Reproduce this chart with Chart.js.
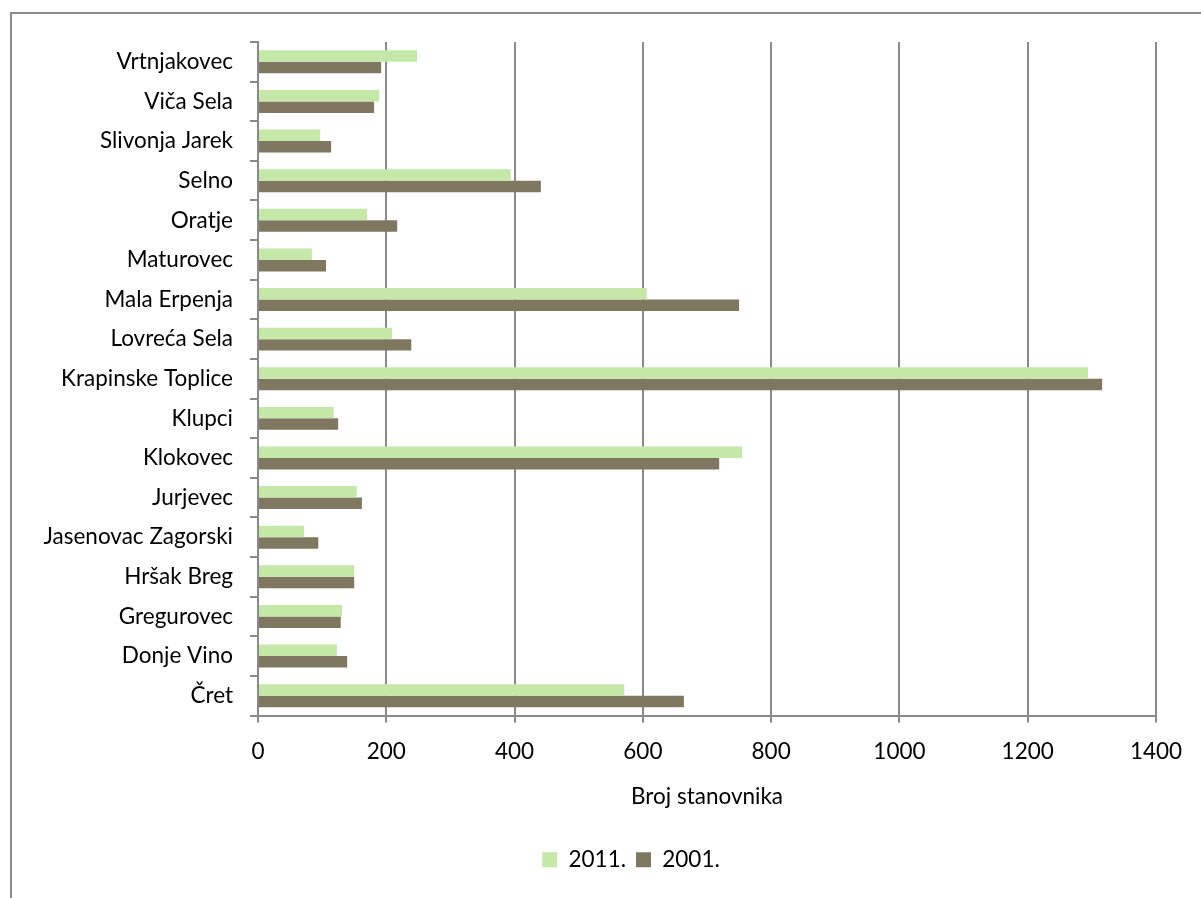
<!DOCTYPE html>
<html>
<head>
<meta charset="utf-8">
<script src="https://cdn.jsdelivr.net/npm/chart.js@4"></script>
<style>
  html, body { margin: 0; padding: 0; background: #fff; }
  #wrap { position: relative; width: 1201px; height: 898px; }
  #frame { position: absolute; left: 10px; top: 12px; right: 0; bottom: 0;
           border-top: 2px solid #898989; border-left: 2px solid #898989; }
  canvas { position: absolute; left: 0; top: 0; }
</style>
</head>
<body>
<div id="wrap">
  <div id="frame"></div>
  <canvas id="chart" width="1201" height="898"></canvas>
</div>
<script>
const places = ["Vrtnjakovec", "Viča Sela", "Slivonja Jarek", "Selno", "Oratje", "Maturovec",
  "Mala Erpenja", "Lovreća Sela", "Krapinske Toplice", "Klupci", "Klokovec", "Jurjevec",
  "Jasenovac Zagorski", "Hršak Breg", "Gregurovec", "Donje Vino", "Čret"];
const pop2011 = [248, 189, 97, 394, 170, 84, 606, 209, 1294, 118, 755, 154, 72, 150, 131, 123, 571];
const pop2001 = [192, 181, 114, 441, 217, 106, 750, 239, 1316, 125, 719, 162, 94, 150, 129, 139, 664];
const xTicks = [0, 200, 400, 600, 800, 1000, 1200, 1400];

const font = "Lato, 'Open Sans', sans-serif";
const fsize = 22.5;
const gridGray = "#898989";

// legend sits a bit right of the canvas centre in the original
const shiftLegend = {
    id: "shiftLegend",
    afterLayout(chart) {
        chart.legend.left += 53;
        chart.legend.right += 53;
    }
};

new Chart(document.getElementById("chart"), {
    type: "bar",
    data: {
        labels: places,
        datasets: [
            { label: "2011.", data: pop2011, backgroundColor: "#c5e8a9" },
            { label: "2001.", data: pop2001, backgroundColor: "#7f7760" }
        ]
    },
    options: {
        indexAxis: "y",
        responsive: false,
        animation: false,
        devicePixelRatio: 1,
        categoryPercentage: 0.58,
        barPercentage: 1,
        layout: { padding: { left: 0, right: 45, top: 42, bottom: 17 } },
        scales: {
            y: {
                afterFit: s => { s.width = 258; },
                grid: { drawOnChartArea: false, drawTicks: true, tickLength: 8, color: gridGray, lineWidth: 2 },
                border: { color: gridGray, width: 2 },
                ticks: { color: "#000", padding: 17, font: { family: font, size: fsize } }
            },
            x: {
                min: 0, max: 1400,
                afterFit: s => { s.height = 123; },
                afterBuildTicks: s => { s.ticks = xTicks.map(v => ({ value: v })); },
                grid: { color: gridGray, lineWidth: 2, tickLength: 7 },
                border: { color: gridGray, width: 2 },
                ticks: { color: "#000", padding: 16, font: { family: font, size: fsize },
                         callback: v => String(v) },
                title: { display: true, text: "Broj stanovnika", color: "#000",
                         padding: { top: 0, bottom: 28 }, font: { family: font, size: fsize } }
            }
        },
        plugins: {
            legend: {
                position: "bottom",
                labels: { color: "#000", boxWidth: 15, boxHeight: 15, padding: 10,
                          font: { family: font, size: fsize } }
            },
            tooltip: { enabled: false }
        }
    },
    plugins: [shiftLegend]
});
</script>
</body>
</html>
